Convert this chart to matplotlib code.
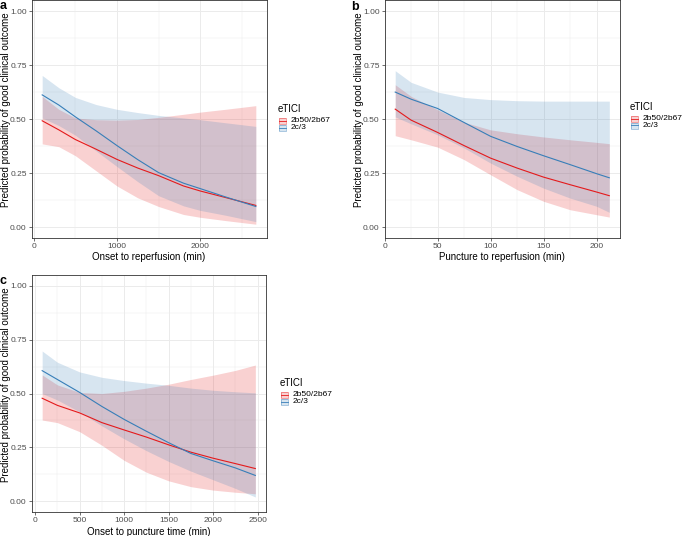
import matplotlib
matplotlib.use('Agg')
import matplotlib.pyplot as plt
from matplotlib.patches import Rectangle
from matplotlib.lines import Line2D

plt.rcParams['font.family'] = ['Liberation Sans', 'DejaVu Sans']

# ---------------- data ----------------
groups = ['2b50/2b67', '2c/3']
y_ticks = [0.0, 0.25, 0.5, 0.75, 1.0]
y_tick_labels = ['0.00', '0.25', '0.50', '0.75', '1.00']
y_title = 'Predicted probability of good clinical outcome'

# panel a: onset to reperfusion
a_x = [100, 300, 500, 750, 1000, 1250, 1500, 1800, 2000, 2300, 2670]
a_red_fit = [0.492, 0.45, 0.405, 0.36, 0.313, 0.273, 0.238, 0.19, 0.167, 0.137, 0.10]
a_red_lo = [0.385, 0.372, 0.33, 0.26, 0.19, 0.135, 0.095, 0.058, 0.045, 0.03, 0.013]
a_red_hi = [0.605, 0.545, 0.505, 0.497, 0.495, 0.498, 0.508, 0.522, 0.532, 0.545, 0.562]
a_blue_fit = [0.612, 0.565, 0.51, 0.445, 0.377, 0.312, 0.252, 0.203, 0.178, 0.14, 0.095]
a_blue_lo = [0.505, 0.47, 0.425, 0.352, 0.28, 0.21, 0.145, 0.098, 0.077, 0.055, 0.025]
a_blue_hi = [0.702, 0.645, 0.60, 0.567, 0.545, 0.53, 0.517, 0.505, 0.497, 0.483, 0.466]
a_xticks = [0, 1000, 2000]
a_xminor = [500, 1500, 2500]
a_xlabel = 'Onset to reperfusion (min)'

# panel b: puncture to reperfusion
b_x = [10, 25, 50, 75, 100, 125, 150, 175, 200, 212]
b_red_fit = [0.546, 0.495, 0.438, 0.377, 0.319, 0.273, 0.231, 0.196, 0.162, 0.145]
b_red_lo = [0.423, 0.404, 0.37, 0.312, 0.242, 0.173, 0.119, 0.08, 0.057, 0.046]
b_red_hi = [0.659, 0.605, 0.543, 0.485, 0.45, 0.432, 0.417, 0.404, 0.392, 0.386]
b_blue_fit = [0.625, 0.592, 0.549, 0.484, 0.42, 0.373, 0.33, 0.289, 0.247, 0.228]
b_blue_lo = [0.51, 0.478, 0.427, 0.366, 0.296, 0.235, 0.18, 0.134, 0.096, 0.068]
b_blue_hi = [0.724, 0.67, 0.625, 0.60, 0.59, 0.585, 0.583, 0.583, 0.583, 0.583]
b_xticks = [0, 50, 100, 150, 200]
b_xminor = [25, 75, 125, 175]
b_xlabel = 'Puncture to reperfusion (min)'

# panel c: onset to puncture
c_x = [79, 250, 500, 750, 1000, 1250, 1500, 1750, 2000, 2250, 2475]
c_red_fit = [0.478, 0.445, 0.41, 0.365, 0.331, 0.298, 0.262, 0.228, 0.20, 0.175, 0.152]
c_red_lo = [0.377, 0.365, 0.323, 0.26, 0.19, 0.135, 0.095, 0.068, 0.052, 0.042, 0.035]
c_red_hi = [0.586, 0.54, 0.505, 0.50, 0.51, 0.525, 0.543, 0.565, 0.585, 0.607, 0.632]
c_blue_fit = [0.606, 0.565, 0.505, 0.44, 0.38, 0.325, 0.272, 0.222, 0.188, 0.155, 0.12]
c_blue_lo = [0.50, 0.47, 0.415, 0.35, 0.29, 0.235, 0.185, 0.14, 0.10, 0.06, 0.02]
c_blue_hi = [0.697, 0.645, 0.60, 0.575, 0.56, 0.548, 0.538, 0.525, 0.515, 0.508, 0.503]
c_xticks = [0, 500, 1000, 1500, 2000, 2500]
c_xminor = [250, 750, 1250, 1750, 2250]
c_xlabel = 'Onset to puncture time (min)'

# ---------------- style ----------------
W, H = 683, 536
RED = '#E41A1C'
BLUE = '#377EB8'
ALPHA = 0.2
GRID = '#EBEBEB'
DARK = '#333333'
TICKTXT = '#4D4D4D'
TICK_FS = 6.0
LEG_FS = 6.0
TITLE_FS = 7.0

fig = plt.figure(figsize=(W / 100, H / 100), dpi=100)


def fx(px):
    return px / W


def fy(py):
    return 1 - py / H


def panel(box, x, red, blue, xticks, xminor, xlabel, letter, letter_xy, legend_xy):
    l, t, r, b = box
    ax = fig.add_axes([fx(l), fy(b), (r - l) / W, (b - t) / H])
    rf, rlo, rhi = red
    bf, blo, bhi = blue
    ax.fill_between(x, rlo, rhi, color=RED, alpha=ALPHA, lw=0, zorder=2)
    ax.fill_between(x, blo, bhi, color=BLUE, alpha=ALPHA, lw=0, zorder=2)
    ax.plot(x, rf, color=RED, lw=0.8, zorder=3)
    ax.plot(x, bf, color=BLUE, lw=0.8, zorder=3)
    span = max(x) - min(x)
    ax.set_xlim(min(x) - 0.05 * span, max(x) + 0.05 * span)
    ax.set_ylim(-0.05, 1.05)
    ax.set_xticks(xticks)
    ax.set_xticks(xminor, minor=True)
    ax.set_yticks(y_ticks)
    ax.set_yticklabels(y_tick_labels)
    ax.set_yticks([0.125, 0.375, 0.625, 0.875], minor=True)
    ax.grid(which='major', color=GRID, lw=0.7, zorder=0)
    ax.grid(which='minor', color=GRID, lw=0.35, zorder=0)
    ax.set_axisbelow(True)
    ax.tick_params(which='major', length=2, width=0.5, color=DARK,
                   labelsize=TICK_FS, labelcolor=TICKTXT, pad=1.5)
    ax.tick_params(which='minor', length=0)
    for s in ax.spines.values():
        s.set_color(DARK)
        s.set_linewidth(0.6)
    # axis titles
    fig.text(fx((l + r) / 2), fy(b + 19.5), xlabel, fontsize=TITLE_FS,
             ha='center', va='center')
    fig.text(fx(l - 25.5), fy((t + b) / 2 - 9), y_title, fontsize=TITLE_FS,
             ha='center', va='center', rotation=90)
    # panel letter
    fig.text(fx(letter_xy[0]), fy(letter_xy[1]), letter, fontsize=9,
             fontweight='bold', ha='left', va='baseline')
    # legend
    lx, ly = legend_xy
    fig.text(fx(lx), fy(ly), 'eTICI', fontsize=TITLE_FS, ha='left', va='center')
    kw, kh = 7.0, 7.0
    for i, (g, c) in enumerate(zip(groups, [RED, BLUE])):
        ky = ly + 8 + i * kh
        x0, y0 = fx(lx + 1), fy(ky + kh - 0.5)
        rect = Rectangle((x0, y0), kw / W, (kh - 1) / H,
                         transform=fig.transFigure, facecolor=c, alpha=ALPHA,
                         edgecolor='none')
        fig.add_artist(rect)
        edge = Rectangle((x0, y0), kw / W, (kh - 1) / H,
                         transform=fig.transFigure, facecolor='none',
                         edgecolor=c, lw=0.5, alpha=0.6)
        fig.add_artist(edge)
        fig.add_artist(Line2D([fx(lx + 1), fx(lx + 1 + kw)],
                              [fy(ky + kh / 2)] * 2, transform=fig.transFigure,
                              color=c, lw=0.6))
        fig.text(fx(lx + 12.5), fy(ky + kh / 2), g, fontsize=LEG_FS,
                 ha='left', va='center')
    return ax


panel((31.5, 0.3, 266.5, 237.8), a_x, (a_red_fit, a_red_lo, a_red_hi),
      (a_blue_fit, a_blue_lo, a_blue_hi), a_xticks, a_xminor, a_xlabel,
      'a', (0, 9), (278, 109))
panel((384.5, 0.3, 620, 237.8), b_x, (b_red_fit, b_red_lo, b_red_hi),
      (b_blue_fit, b_blue_lo, b_blue_hi), b_xticks, b_xminor, b_xlabel,
      'b', (351, 9.5), (630, 107))
panel((31.5, 274.9, 266, 512.1), c_x, (c_red_fit, c_red_lo, c_red_hi),
      (c_blue_fit, c_blue_lo, c_blue_hi), c_xticks, c_xminor, c_xlabel,
      'c', (0, 283.5), (280, 383))

fig.savefig('out.png', dpi=100)
